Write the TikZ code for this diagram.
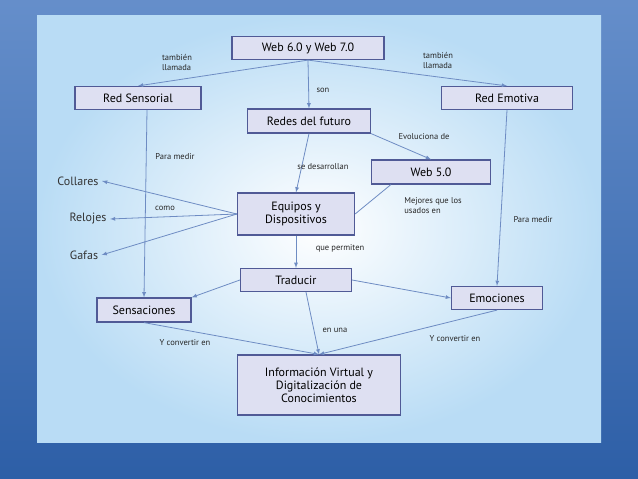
\documentclass[tikz,border=0pt]{standalone}
\usepackage{fontspec}
\setmainfont{PT Sans}
\usetikzlibrary{arrows,shapes}
\usetikzlibrary{positioning}
\definecolor{frameblue}{RGB}{50,105,185}
\definecolor{boxfill}{RGB}{222,224,242}
\definecolor{boxline}{RGB}{80,90,150}
\definecolor{linkblue}{RGB}{110,140,195}
\definecolor{panelblue}{RGB}{185,220,245}
\tikzset{
  box/.style={draw=boxline,line width=1.2pt,fill=boxfill,font=\fontsize{12}{13}\selectfont,align=center,inner sep=0pt},
  item/.style={font=\fontsize{12}{13}\selectfont,text=black!80},
  lab/.style={font=\fontsize{8.5}{10}\selectfont,align=left,text=black!85},
  link/.style={draw=linkblue,line width=0.8pt,-latex},
}
\begin{document}
\begin{tikzpicture}[x=1pt,y=-1pt]
\useasboundingbox (0,0) rectangle (638,479);
\shade[top color=frameblue!75,bottom color=frameblue!90!black] (0,0) rectangle (638,479);
\shade[inner color=white,outer color=panelblue] (37,15) rectangle (601,442);
% nodes
\node[box,minimum width=152pt,minimum height=23pt] (web67) at (308,48) {Web 6.0 y Web 7.0};
\node[box,minimum width=126pt,minimum height=23pt] (sensorial) at (138,98) {Red Sensorial};
\node[box,minimum width=131pt,minimum height=23pt] (emotiva) at (507,98) {Red Emotiva};
\node[box,minimum width=123pt,minimum height=24pt] (futuro) at (309,121) {Redes del futuro};
\node[box,minimum width=119pt,minimum height=24pt] (web5) at (431,172) {Web 5.0};
\node[box,minimum width=117pt,minimum height=42pt] (equipos) at (296,214) {Equipos y\\Dispositivos};
\node[box,minimum width=111pt,minimum height=23pt] (traducir) at (296,280) {Traducir};
\node[box,minimum width=94pt,minimum height=24pt] (sensaciones) at (144,310) {Sensaciones};
\node[box,minimum width=91pt,minimum height=23pt] (emociones) at (497,298) {Emociones};
\node[box,minimum width=163pt,minimum height=60pt] (info) at (319,385) {Información Virtual y\\Digitalización de\\Conocimientos};
\node[item] (collares) at (78,181) {Collares};
\node[item] (relojes) at (88,219) {Relojes};
\node[item] (gafas) at (84,255) {Gafas};
% connectors
\draw[link] (web67.south) -- (sensorial.north);
\draw[link] (web67.south) -- (emotiva.north);
\draw[link] (web67.south) -- (futuro.north);
\draw[link] (futuro.south east) -- (web5.north);
\draw[link] (futuro.south) -- (equipos.north);
\draw[draw=linkblue,line width=0.8pt] (web5.south west) ++(20,0) -- (equipos.east);
\draw[link] (sensorial.south) ++(9,0) -- (sensaciones.north);
\draw[link] (emotiva.south) -- (emociones.north);
\draw[link] (equipos.west) -- (collares.east);
\draw[link] (equipos.west) -- (relojes.east);
\draw[link] (equipos.west) -- (gafas.east);
\draw[link] (equipos.south) -- (traducir.north);
\draw[link] (traducir.west) -- (sensaciones.north east);
\draw[link] (traducir.east) -- (emociones.west);
\draw[link] (traducir.south) ++(10,0) -- (info.north);
\draw[link] (sensaciones.south) -- (info.north);
\draw[link] (emociones.south) -- (info.north);
% labels
\node[lab] (l1) at (177,62) {también\\llamada};
\node[lab] (l2) at (438,60) {también\\llamada};
\node[lab] (l3) at (323,90) {son};
\node[lab] (l4) at (424,137) {Evoluciona de};
\node[lab] (l5) at (323,167) {se desarrollan};
\node[lab] (l6) at (175,157) {Para medir};
\node[lab] (l7) at (433,206) {Mejores que los\\usados en};
\node[lab] (l8) at (533,220) {Para medir};
\node[lab] (l9) at (165,208) {como};
\node[lab] (l10) at (340,248) {que permiten};
\node[lab] (l11) at (335,330) {en una};
\node[lab] (l12) at (185,343) {Y convertir en};
\node[lab] (l13) at (455,339) {Y convertir en};
\end{tikzpicture}
\end{document}
